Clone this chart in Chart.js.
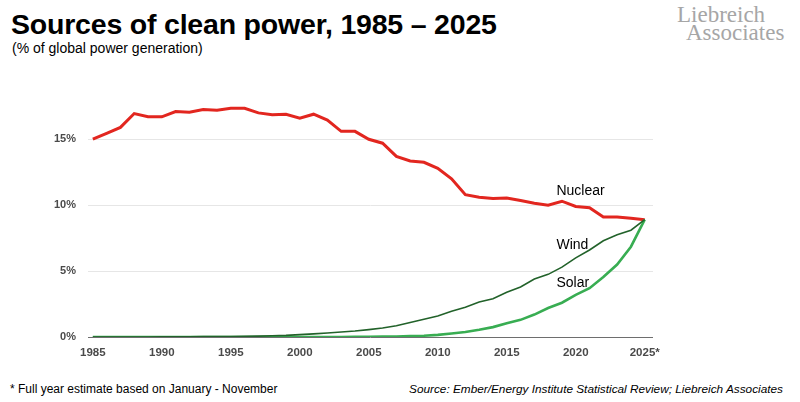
<!DOCTYPE html>
<html lang="en">
<head>
<meta charset="UTF-8">
<title>Sources of clean power, 1985 – 2025</title>
<script src="https://cdn.jsdelivr.net/npm/chart.js"></script>
<style>
    html, body { margin: 0; padding: 0; background: #fff; }
    body { width: 800px; height: 402px; position: relative; overflow: hidden; font-family: "Liberation Sans", Arial, sans-serif; }
    #title { position: absolute; left: 11px; top: 8px; font-size: 28.5px; font-weight: bold; color: #000; letter-spacing: -0.2px; }
    #subtitle { position: absolute; left: 12px; top: 40px; font-size: 14px; color: #000; }
    .logo { position: absolute; font-family: "Liberation Serif", "DejaVu Serif", serif; font-size: 23px; color: #a6a6a6; white-space: nowrap; }
    #logo1 { left: 677px; top: 2px; }
    #logo2 { left: 686px; top: 20px; }
    #note { position: absolute; left: 10px; top: 382px; font-size: 12px; color: #000; }
    #source { position: absolute; right: 17px; top: 382px; font-size: 11.8px; font-style: italic; color: #000; }
    #wrap { position: absolute; left: 0; top: 60px; width: 800px; height: 310px; }
</style>
</head>
<body>
<div id="title">Sources of clean power, 1985 – 2025</div>
<div id="subtitle">(% of global power generation)</div>
<div class="logo" id="logo1">Liebreich</div>
<div class="logo" id="logo2">Associates</div>
<div id="wrap"><canvas id="chart"></canvas></div>
<div id="note">* Full year estimate based on January - November</div>
<div id="source">Source: Ember/Energy Institute Statistical Review; Liebreich Associates</div>

<script>
    const jahre = [];
    for (let j = 1985; j <= 2025; j++) jahre.push(j);

    const nuclear = [15.0, 15.45, 15.9, 16.95, 16.7, 16.7, 17.1, 17.05, 17.25, 17.2, 17.35, 17.35, 17.0, 16.85, 16.9,
        16.6, 16.9, 16.45, 15.6, 15.6, 15.0, 14.7, 13.7, 13.35, 13.25, 12.8, 12.0, 10.8, 10.6, 10.5,
        10.55, 10.35, 10.15, 10.0, 10.3, 9.9, 9.8, 9.1, 9.1, 9.0, 8.9];
    const wind = [0.0, 0.0, 0.0, 0.0, 0.0, 0.01, 0.01, 0.02, 0.03, 0.03, 0.04, 0.05, 0.07, 0.09, 0.12,
        0.18, 0.24, 0.3, 0.38, 0.45, 0.56, 0.68, 0.85, 1.1, 1.35, 1.6, 1.95, 2.25, 2.65, 2.9,
        3.4, 3.8, 4.4, 4.75, 5.3, 6.0, 6.6, 7.3, 7.75, 8.1, 8.9];
    const solar = [0.0, 0.0, 0.0, 0.0, 0.0, 0.0, 0.0, 0.0, 0.0, 0.0, 0.0, 0.0, 0.0, 0.0, 0.0,
        0.0, 0.0, 0.0, 0.0, 0.01, 0.02, 0.03, 0.04, 0.07, 0.1, 0.16, 0.27, 0.38, 0.55, 0.75,
        1.05, 1.3, 1.7, 2.2, 2.6, 3.2, 3.7, 4.55, 5.5, 6.85, 8.9];

    const xTicks = [1985, 1990, 1995, 2000, 2005, 2010, 2015, 2020, 2025];
    const yTicks = [0, 5, 10, 15];

    const reihen = [
        { name: 'Nuclear', werte: nuclear, farbe: '#e2261f', breite: 3 },
        { name: 'Wind', werte: wind, farbe: '#22622a', breite: 1.6 },
        { name: 'Solar', werte: solar, farbe: '#38ad52', breite: 2.6 }
    ];

    // direct labels next to the lines
    const beschriftung = {
        id: 'beschriftung',
        afterDatasetsDraw(chart) {
            const { ctx, scales: { x, y } } = chart;
            const marken = [
                { text: 'Nuclear', jahr: 2018.6, wert: 11.1 },
                { text: 'Wind', jahr: 2018.6, wert: 7.0 },
                { text: 'Solar', jahr: 2018.6, wert: 4.1 }
            ];
            ctx.save();
            ctx.font = '14px "Liberation Sans", Arial, sans-serif';
            ctx.fillStyle = '#000';
            ctx.textAlign = 'left';
            ctx.textBaseline = 'middle';
            marken.forEach(m => ctx.fillText(m.text, x.getPixelForValue(m.jahr), y.getPixelForValue(m.wert)));
            ctx.restore();
        }
    };

    new Chart(document.getElementById('chart'), {
        type: 'line',
        data: {
            datasets: reihen.map(r => ({
                label: r.name,
                data: jahre.map((j, i) => ({ x: j, y: r.werte[i] })),
                borderColor: r.farbe,
                backgroundColor: r.farbe,
                borderWidth: r.breite,
                pointRadius: 0,
                tension: 0,
                order: r.name === 'Nuclear' ? 2 : 1
            }))
        },
        options: {
            responsive: true,
            maintainAspectRatio: false,
            animation: false,
            layout: { padding: { top: 0, right: 147, left: 0, bottom: 0 } },
            plugins: { legend: { display: false }, tooltip: { enabled: false } },
            scales: {
                x: {
                    type: 'linear',
                    min: 1984.65,
                    max: 2025.6,
                    afterBuildTicks: s => { s.ticks = xTicks.map(v => ({ value: v })); },
                    afterFit: s => { s.height = 33; },
                    grid: { display: false, drawTicks: false },
                    border: { display: false },
                    ticks: {
                        padding: 9,
                        color: '#4a4a4a',
                        font: { family: '"Liberation Sans", Arial, sans-serif', size: 11.5, weight: 'bold' },
                        callback: v => v === 2025 ? '2025*' : String(v),
                        maxRotation: 0
                    }
                },
                y: {
                    min: 0,
                    max: 19.6,
                    afterBuildTicks: s => { s.ticks = yTicks.map(v => ({ value: v })); },
                    afterFit: s => { s.width = 88; },
                    grid: {
                        drawTicks: false,
                        color: ctx => ctx.tick.value === 0 ? '#6e6e6e' : '#e6e6e6',
                        lineWidth: 1
                    },
                    border: { display: false },
                    ticks: {
                        padding: 12,
                        color: '#4a4a4a',
                        font: { family: '"Liberation Sans", Arial, sans-serif', size: 11, weight: 'bold' },
                        callback: v => v + '%'
                    }
                }
            }
        },
        plugins: [beschriftung]
    });
</script>
</body>
</html>
